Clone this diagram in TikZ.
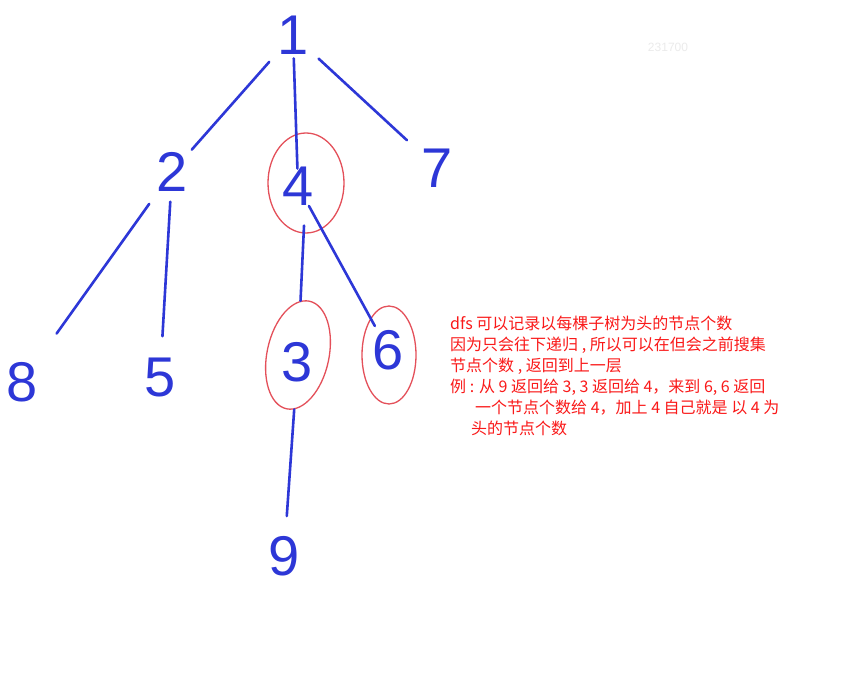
\documentclass[tikz,border=0pt]{standalone}
\usepackage{fontspec}
\setmainfont{Liberation Sans}
\newfontfamily\cjk{Noto Sans CJK SC}
\usetikzlibrary{shapes.geometric}
\definecolor{penblue}{RGB}{45,55,215}
\definecolor{penred}{RGB}{228,80,90}
\definecolor{notered}{RGB}{250,25,25}
\tikzset{
  digit/.style={text=penblue, font=\fontsize{56}{56}\selectfont, inner sep=4pt},
  edge/.style={draw=penblue, line width=2.6pt, line cap=round},
  ring/.style={ellipse, draw=penred, line width=1.3pt, inner sep=0pt},
  note/.style={text=notered, font=\cjk\fontsize{16}{16}\selectfont, anchor=base west, inner sep=0pt}
}
\begin{document}
\begin{tikzpicture}[x=1pt,y=-1pt]
\useasboundingbox[fill=white] (0,0) rectangle (843,676);

\node[text=black!8, font=\fontsize{12}{12}\selectfont] (wm) at (668,47) {231700};

% tree
\node[digit] (n1) at (293,35) {1};
\node[digit] (n2) at (172,172) {2};
\node[digit] (n4) at (298,186) {4};
\node[digit] (n7) at (437,168) {7};
\node[digit] (n8) at (22,382) {8};
\node[digit] (n5) at (160,378) {5};
\node[digit] (n3) at (297,362) {3};
\node[digit] (n6) at (388,350) {6};
\node[digit] (n9) at (284,556) {9};

\node[ring, minimum width=76pt, minimum height=100pt] (r4) at (306,183) {};
\node[ring, minimum width=62pt, minimum height=110pt, rotate=-12] (r3) at (298,355) {};
\node[ring, minimum width=54pt, minimum height=98pt] (r6) at (389,355) {};

\draw[edge, shorten <=6pt] (n1) -- (n2);
\draw[edge, shorten >=-6pt] (n1) -- (n4);
\draw[edge, shorten <=8pt, shorten >=14pt] (n1) -- (n7);
\draw[edge, shorten <=10pt, shorten >=30pt] (n2) -- (n8);
\draw[edge, shorten <=6pt, shorten >=18pt] (n2) -- (n5);
\draw[edge, shorten <=-8pt] (r4) -- (r3);
\draw[edge, shorten <=-4pt] (n4) -- (n6);
\draw[edge, shorten >=16pt] (r3) -- (n9);

% notes
\node[note] (t1) at (450,329) {dfs 可以记录以每棵子树为头的节点个数};
\node[note] (t2) at (450,350) {因为只会往下递归 , 所以可以在但会之前搜集};
\node[note] (t3) at (450,371) {节点个数 , 返回到上一层};
\node[note] (t4) at (450,392) {例 : 从 9 返回给 3, 3 返回给 4，来到 6, 6 返回};
\node[note] (t5) at (475,413) {一个节点个数给 4，加上 4 自己就是 以 4 为};
\node[note] (t6) at (471,434) {头的节点个数};
\end{tikzpicture}
\end{document}
